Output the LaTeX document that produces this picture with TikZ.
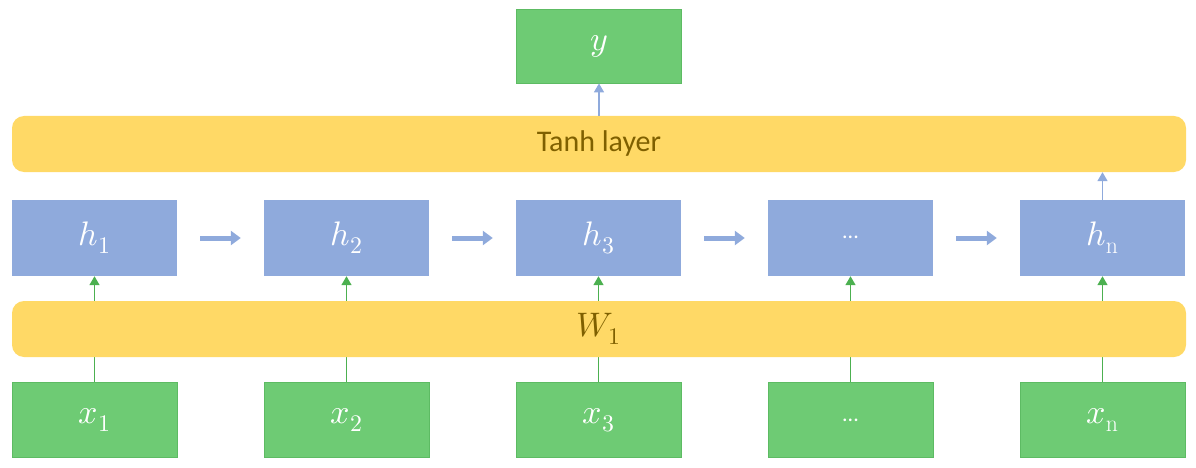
\documentclass[tikz,border=0pt]{standalone}
\usepackage{fontspec}
\usepackage{unicode-math}
\setmathfont{Latin Modern Math}
\setsansfont{Carlito}
\usetikzlibrary{arrows.meta}
\pgfdeclarelayer{back}
\pgfsetlayers{back,main}
\definecolor{gfill}{HTML}{6ECB74}
\definecolor{gdraw}{HTML}{5DBB63}
\definecolor{bfill}{HTML}{8FAADC}
\definecolor{yfill}{HTML}{FFD966}
\definecolor{btext}{HTML}{7F6000}
\definecolor{garrow}{HTML}{4CB050}
\tikzset{
  gbox/.style={draw=gdraw, line width=0.8pt, fill=gfill, minimum width=165pt, minimum height=75pt, inner sep=0pt, text=white, font=\fontsize{34}{34}\selectfont},
  hbox/.style={fill=bfill, minimum width=165pt, minimum height=76pt, inner sep=0pt, text=white, font=\fontsize{34}{34}\selectfont},
  layer/.style={fill=yfill, rounded corners=12pt, minimum width=1174pt, minimum height=56pt, inner sep=0pt, text=btext},
  garr/.style={draw=garrow, line width=1.5pt, -{Triangle[length=9pt,width=10pt]}},
  barr/.style={draw=bfill, line width=1.5pt, -{Triangle[length=9pt,width=10pt]}},
  harr/.style={draw=bfill, line width=5pt, -{Triangle[length=10pt,width=14pt]}}
}
\begin{document}
\begin{tikzpicture}[x=1pt,y=-1pt]
\useasboundingbox (0,0) rectangle (1196,468);
\node[gbox, minimum height=74pt] (y) at (599,46) {$y$};
\node[layer, font=\sffamily\fontsize{30}{30}\selectfont] (tanh) at (599,144) {Tanh layer};
\node[layer, font=\fontsize{34}{34}\selectfont] (w) at (599,329) {$W_1$};
\node[hbox] (h1) at (94.5,238) {$h_1$};
\node[hbox] (h2) at (346.5,238) {$h_2$};
\node[hbox] (h3) at (598.5,238) {$h_3$};
\node[hbox] (h4) at (850.5,238) {\fontsize{22}{22}\selectfont\sffamily\raisebox{2pt}{...}};
\node[hbox] (hn) at (1102.5,238) {$h_{\mathrm{n}}$};
\node[gbox] (x1) at (94.5,420) {$x_1$};
\node[gbox] (x2) at (346.5,420) {$x_2$};
\node[gbox] (x3) at (598.5,420) {$x_3$};
\node[gbox] (x4) at (850.5,420) {\fontsize{22}{22}\selectfont\sffamily ...};
\node[gbox] (xn) at (1102.5,420) {$x_{\mathrm{n}}$};
\begin{pgfonlayer}{back}
\foreach \i in {1,2,3,4,n} {
  \draw[garr] (x\i.north) -- (h\i.south);
}
\end{pgfonlayer}
\draw[harr] ([xshift=23pt]h1.east) -- ([xshift=-23pt]h2.west);
\draw[harr] ([xshift=23pt]h2.east) -- ([xshift=-23pt]h3.west);
\draw[harr] ([xshift=23pt]h3.east) -- ([xshift=-23pt]h4.west);
\draw[harr] ([xshift=23pt]h4.east) -- ([xshift=-23pt]hn.west);
\draw[barr] (hn.north) -- (hn.north |- tanh.south);
\draw[barr] (tanh.north -| y.south) -- (y.south);
\end{tikzpicture}
\end{document}
